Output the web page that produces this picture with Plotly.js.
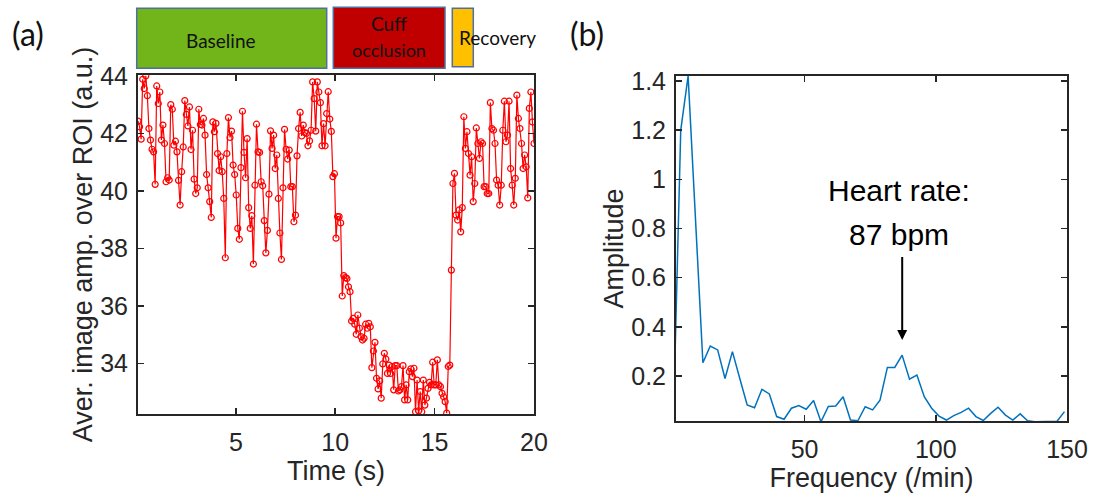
<!DOCTYPE html>
<html>
<head>
<meta charset="utf-8">
<script src="https://cdn.plot.ly/plotly-3.0.1.min.js"></script>
<style>
html,body{margin:0;padding:0;background:#fff;}
#chart{width:1094px;height:499px;}
</style>
</head>
<body>
<div id="chart"></div>
<script>
// ---- Panel (a): average image amplitude over ROI, sampled uniformly in time ----
const frameRate = 12.75; // frames per second
const amplitudeROI = [
  42.43, 42.23, 41.80, 43.88, 43.56, 44.00, 43.31, 42.17, 41.77, 41.45, 41.36, 40.23, 43.65, 43.04, 43.44, 41.77,
  42.29, 41.65, 40.32, 40.46, 40.38, 43.00, 42.84, 41.59, 41.73, 41.36, 40.37, 39.51, 40.67, 41.53, 43.14, 42.66,
  42.26, 42.92, 41.44, 42.11, 40.41, 39.91, 40.11, 42.84, 42.31, 42.29, 42.52, 41.94, 40.57, 40.11, 39.63, 39.08,
  42.40, 42.06, 42.35, 41.30, 40.71, 41.19, 40.67, 39.74, 37.68, 41.30, 42.55, 41.86, 42.08, 40.90,
  40.57, 39.86, 38.70, 38.32, 40.81, 42.77, 41.34, 40.46, 41.82, 39.42, 38.70, 39.14, 37.46, 40.20, 42.32, 41.36,
  41.34, 40.32, 40.18, 38.97, 37.85, 38.63, 39.89, 42.09, 41.48, 41.94, 40.78, 41.25, 39.74, 38.54, 37.62, 40.11,
  42.14, 41.45, 41.11, 41.42, 40.15, 40.15, 38.93, 39.16, 41.22, 42.17, 42.73, 41.91, 42.29, 42.03, 42.00, 41.57,
  41.74, 42.11, 43.79, 43.21, 42.08, 43.79, 43.44, 43.07,
  41.57, 42.34, 41.57, 42.69, 43.45, 42.50, 42.07, 40.50, 40.60, 38.36, 39.11, 39.11, 38.89,
  36.35, 37.06, 36.99, 36.96, 36.67, 36.50, 35.48, 35.57, 35.37, 35.02, 35.69, 35.23, 34.94, 34.82, 34.88, 35.37,
  35.23, 35.40, 35.28, 33.86, 34.44, 34.74, 33.49, 33.12, 33.40, 32.80, 33.99, 34.36, 34.16, 33.66, 33.95, 33.66,
  33.90, 33.09, 33.93, 33.93, 33.05, 33.09, 33.20, 33.93, 32.74, 33.26, 32.74, 33.72, 33.82, 33.55, 33.84, 32.33,
  33.43, 32.36, 33.03, 32.33, 33.43, 32.56, 32.80, 33.14, 33.35, 33.26, 34.05, 33.26, 33.26, 34.13,
  33.26, 33.20, 32.97, 32.85, 32.68, 32.28, 33.90, 33.95,
  37.25, 40.26, 40.61, 39.16, 38.99, 39.34, 38.58, 39.42, 42.58, 41.48, 42.06, 41.30, 40.55, 41.19, 39.63, 40.26,
  42.19, 41.65, 41.13, 41.71, 41.65, 40.15, 40.15, 39.91, 39.91, 43.07, 42.17, 42.11, 41.65, 40.38, 40.20, 39.51,
  40.20, 42.11, 43.12, 41.71, 41.94, 43.12, 40.78, 40.20, 39.51, 40.44, 43.33, 42.52, 42.17, 41.65, 40.78, 41.25,
  40.84, 39.76, 42.87, 43.44, 42.40, 41.65
];
const timeSec = amplitudeROI.map((_, i) => (i + 1) / frameRate);
const timeTicks = [5, 10, 15, 20];
const ampTicks = [34, 36, 38, 40, 42, 44];

// ---- Panel (b): amplitude spectrum ----
const frequencyPerMin = [
  0, 2.81, 5.62, 8.44, 11.25, 14.06, 16.87, 19.68, 22.50, 25.31, 28.12, 30.93, 33.74, 36.56, 39.37, 42.18,
  44.99, 47.80, 50.62, 53.43, 56.24, 59.05, 61.86, 64.68, 67.49, 70.30, 73.11, 75.92, 78.74, 81.55, 84.36, 87.17,
  89.98, 92.80, 95.61, 98.42, 101.23, 104.04, 106.86, 109.67, 112.48, 115.29, 118.10, 120.92, 123.73, 126.54, 129.35, 132.16,
  134.98, 137.79, 140.60, 143.41, 146.22, 149.04
];
const spectrumAmplitude = [
  0.02, 1.20, 1.42, 0.85, 0.254, 0.322, 0.306, 0.19, 0.299, 0.19, 0.082, 0.071, 0.146, 0.127, 0.035, 0.024,
  0.069, 0.080, 0.065, 0.100, 0.014, 0.076, 0.078, 0.116, 0.021, 0.018, 0.075, 0.062, 0.102, 0.235, 0.235, 0.285,
  0.187, 0.204, 0.116, 0.069, 0.037, 0.021, 0.039, 0.052, 0.069, 0.035, 0.019, 0.048, 0.073, 0.041, 0.021, 0.046,
  0.018, 0.014, 0.014, 0.014, 0.016, 0.055
];
const freqTicks = [50, 100, 150];
const spectrumTicks = [0.2, 0.4, 0.6, 0.8, 1, 1.2, 1.4];
const heartRateBpm = 87;

// ---- layout helpers (figure pixels -> paper fractions) ----
const W = 1094, H = 499;
const px = x => x / W;
const py = y => 1 - y / H;

const axisCol = '#262626';
const baseFont = 'Liberation Sans, Arial, Helvetica, sans-serif';
const boxFont = 'Lato, Carlito, Calibri, sans-serif';
const tickSize = 25, titleSize = 27;

function axisStyle(extra) {
  return Object.assign({
    showline: true, linecolor: axisCol, linewidth: 2, mirror: 'ticks',
    ticks: 'inside', ticklen: 6, tickwidth: 1.5, tickcolor: axisCol,
    showgrid: false, zeroline: false,
    tickfont: {family: baseFont, size: tickSize, color: axisCol}
  }, extra);
}

const traces = [
  {
    x: timeSec, y: amplitudeROI, xaxis: 'x', yaxis: 'y',
    type: 'scatter', mode: 'lines+markers',
    line: {color: '#ff0000', width: 1.2},
    marker: {symbol: 'circle-open', size: 6, color: '#ff0000', line: {width: 1.2, color: '#ff0000'}},
    cliponaxis: true, hoverinfo: 'skip'
  },
  {
    x: frequencyPerMin, y: spectrumAmplitude, xaxis: 'x2', yaxis: 'y2',
    type: 'scatter', mode: 'lines',
    line: {color: '#0072BD', width: 1.5},
    hoverinfo: 'skip'
  }
];

const layout = {
  width: W, height: H,
  margin: {l: 0, r: 0, t: 0, b: 0},
  paper_bgcolor: '#ffffff', plot_bgcolor: '#ffffff',
  showlegend: false,
  font: {family: baseFont, size: tickSize, color: axisCol},
  xaxis: axisStyle({
    domain: [px(138), px(534)], anchor: 'y', range: [0.078, 20],
    tickmode: 'array', tickvals: timeTicks, ticklabelstandoff: 5,
    title: {text: 'Time (s)', font: {family: baseFont, size: titleSize, color: axisCol}, standoff: 2}
  }),
  yaxis: axisStyle({
    domain: [py(414), py(75)], anchor: 'x', range: [32.25, 44.03],
    tickmode: 'array', tickvals: ampTicks, ticklabelstandoff: 3,
    title: {text: 'Aver. image amp. over ROI (a.u.)', font: {family: baseFont, size: titleSize, color: axisCol}, standoff: 0}
  }),
  xaxis2: axisStyle({
    domain: [px(676), px(1067)], anchor: 'y2', range: [1, 150],
    tickmode: 'array', tickvals: freqTicks, ticklabelstandoff: 5,
    title: {text: 'Frequency (/min)', font: {family: baseFont, size: titleSize, color: axisCol}, standoff: 2}
  }),
  yaxis2: axisStyle({
    domain: [py(421), py(76)], anchor: 'x2', range: [0.017, 1.42],
    tickmode: 'array', tickvals: spectrumTicks, ticklabelstandoff: 3,
    title: {text: 'Amplitude', font: {family: baseFont, size: titleSize, color: axisCol}, standoff: 0}
  }),
  shapes: [
    {type: 'rect', xref: 'paper', yref: 'paper', x0: px(136.7), x1: px(326.7), y0: py(68.3), y1: py(8.3),
     fillcolor: '#72B51B', line: {color: '#4F6FA0', width: 1.5}},
    {type: 'rect', xref: 'paper', yref: 'paper', x0: px(333.3), x1: px(445), y0: py(68.3), y1: py(7.3),
     fillcolor: '#C00000', line: {color: '#4F6FA0', width: 1.5}},
    {type: 'rect', xref: 'paper', yref: 'paper', x0: px(452.3), x1: px(473.3), y0: py(66.7), y1: py(8.3),
     fillcolor: '#FFC000', line: {color: '#4F6FA0', width: 1.5}}
  ],
  annotations: [
    {xref: 'paper', yref: 'paper', x: px(221), y: py(41), text: 'Baseline', showarrow: false,
     xanchor: 'center', yanchor: 'middle', font: {family: boxFont, size: 19, color: '#111'}},
    {xref: 'paper', yref: 'paper', x: px(389), y: py(23), text: 'Cuff', showarrow: false,
     xanchor: 'center', yanchor: 'middle', font: {family: boxFont, size: 19, color: '#111'}},
    {xref: 'paper', yref: 'paper', x: px(389), y: py(50), text: 'occlusion', showarrow: false,
     xanchor: 'center', yanchor: 'middle', font: {family: boxFont, size: 18, color: '#111'}},
    {xref: 'paper', yref: 'paper', x: px(457), y: py(38), text: 'Recovery', showarrow: false,
     xanchor: 'left', yanchor: 'middle', font: {family: boxFont, size: 19, color: '#111'}},
    {xref: 'paper', yref: 'paper', x: px(28), y: py(34), text: '(a)', showarrow: false,
     xanchor: 'center', yanchor: 'middle', font: {family: boxFont, size: 32, color: '#111'}},
    {xref: 'paper', yref: 'paper', x: px(587), y: py(34), text: '(b)', showarrow: false,
     xanchor: 'center', yanchor: 'middle', font: {family: boxFont, size: 32, color: '#111'}},
    {xref: 'x2', yref: 'y2', x: 85.8, y: 0.956, text: 'Heart rate:', showarrow: false,
     xanchor: 'center', yanchor: 'middle', font: {family: baseFont, size: 30, color: '#000'}},
    {xref: 'x2', yref: 'y2', x: 85.8, y: 0.775, text: heartRateBpm + ' bpm', showarrow: false,
     xanchor: 'center', yanchor: 'middle', font: {family: baseFont, size: 30, color: '#000'}},
    {xref: 'x2', yref: 'y2', x: 87.2, y: 0.346, axref: 'x2', ayref: 'y2', ax: 87.2, ay: 0.69,
     text: '', showarrow: true, arrowhead: 2, arrowsize: 1, arrowwidth: 2, arrowcolor: '#000'}
  ]
};

Plotly.newPlot('chart', traces, layout, {staticPlot: true, displayModeBar: false});
</script>
</body>
</html>
